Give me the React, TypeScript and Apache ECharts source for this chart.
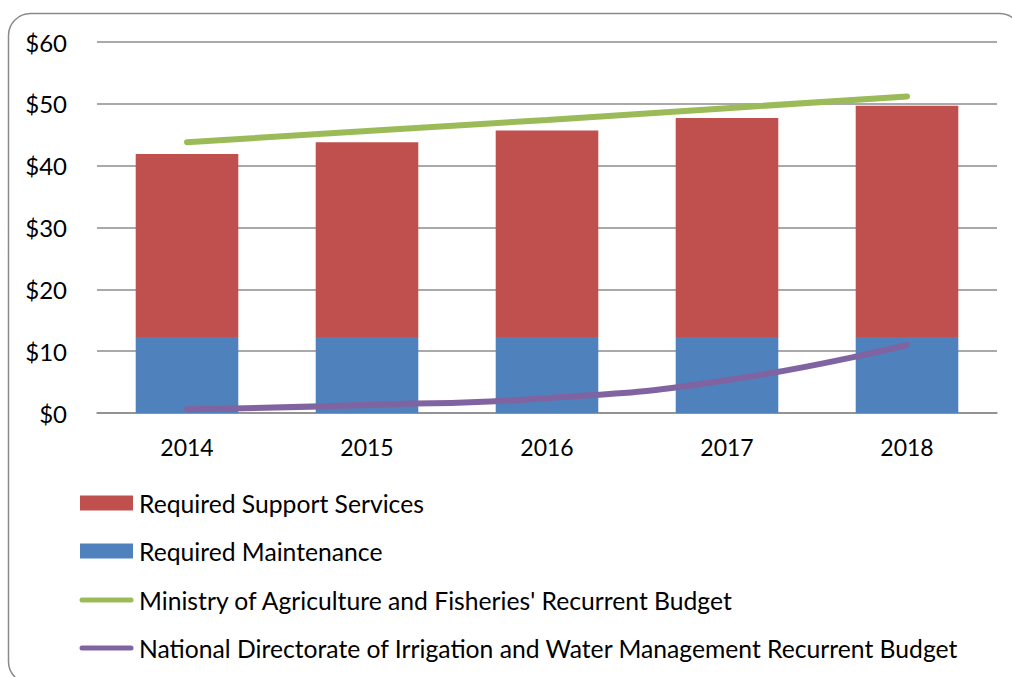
import React, { useEffect, useRef } from "react";
import * as echarts from "echarts";

const years = ["2014", "2015", "2016", "2017", "2018"];
const maintenance = [12.3, 12.3, 12.3, 12.3, 12.3];
const supportServices = [29.6, 31.5, 33.4, 35.4, 37.4];
const ministryBudget = [43.8, 45.6, 47.4, 49.3, 51.2];
const directorateBudget = [0.6, 1.3, 2.4, 5.3, 11.0];
const yTicks = [0, 10, 20, 30, 40, 50, 60];

const seriesNames = [
  "Required Support Services",
  "Required Maintenance",
  "Ministry of Agriculture and Fisheries' Recurrent Budget",
  "National Directorate of Irrigation and Water Management Recurrent Budget",
];
const seriesColors = ["#C0504D", "#4F81BD", "#9BBB59", "#8064A2"];
const seriesKinds = ["bar", "bar", "line", "line"];

const FONT = "Lato";

export default function App() {
  const ref = useRef<HTMLDivElement>(null);
  useEffect(() => {
    document.body.style.margin = "0";
    const chart = echarts.init(ref.current!, null, { renderer: "svg" });
    const legendRowY = [503, 551, 600, 648];
    const legendGraphics: any[] = [];
    seriesNames.forEach((name, i) => {
      const cy = legendRowY[i];
      if (seriesKinds[i] === "bar") {
        legendGraphics.push({
          type: "rect",
          shape: { x: 80, y: cy - 7.5, width: 53, height: 15 },
          style: { fill: seriesColors[i] },
          silent: true,
        });
      } else {
        legendGraphics.push({
          type: "line",
          shape: { x1: 82, y1: cy, x2: 131, y2: cy },
          style: { stroke: seriesColors[i], lineWidth: 5, lineCap: "round" },
          silent: true,
        });
      }
      legendGraphics.push({
        type: "text",
        x: 139,
        y: cy,
        style: {
          text: name,
          fill: "#000",
          font: `24.7px ${FONT}`,
          textVerticalAlign: "middle",
          verticalAlign: "middle",
        },
        silent: true,
      });
    });
    chart.setOption({
      animation: false,
      textStyle: { fontFamily: FONT },
      graphic: [
        {
          type: "rect",
          shape: { x: 8.5, y: 13.5, width: 1013, height: 670, r: 22 },
          style: { fill: "none", stroke: "#8a8a8a", lineWidth: 1.5 },
          silent: true,
        },
        ...legendGraphics,
      ],
      grid: { left: 97, right: 15, top: 42, bottom: 264 },
      xAxis: {
        type: "category",
        data: years,
        axisTick: { show: false },
        axisLine: { lineStyle: { color: "#8c8c8c", width: 1.5 } },
        axisLabel: { color: "#000", fontSize: 23, margin: 22, fontFamily: FONT },
      },
      yAxis: {
        type: "value",
        min: yTicks[0],
        max: yTicks[yTicks.length - 1],
        interval: 10,
        axisLine: { show: false },
        axisTick: { show: false },
        splitLine: { lineStyle: { color: "#8c8c8c", width: 1.5 } },
        axisLabel: { color: "#000", fontSize: 24, margin: 30, fontFamily: FONT, formatter: (v: number) => "$" + v },
      },
      series: [
        {
          name: seriesNames[1],
          type: "bar",
          stack: "req",
          data: maintenance,
          barWidth: "57%",
          itemStyle: { color: seriesColors[1] },
        },
        {
          name: seriesNames[0],
          type: "bar",
          stack: "req",
          data: supportServices,
          barWidth: "57%",
          itemStyle: { color: seriesColors[0] },
        },
        {
          name: seriesNames[2],
          type: "line",
          data: ministryBudget,
          symbol: "none",
          lineStyle: { color: seriesColors[2], width: 6, cap: "round" },
          itemStyle: { color: seriesColors[2] },
        },
        {
          name: seriesNames[3],
          type: "line",
          data: directorateBudget,
          smooth: true,
          symbol: "none",
          lineStyle: { color: seriesColors[3], width: 6, cap: "round" },
          itemStyle: { color: seriesColors[3] },
        },
      ],
    });
    return () => chart.dispose();
  }, []);
  return <div ref={ref} style={{ width: 1012, height: 677 }} />;
}
